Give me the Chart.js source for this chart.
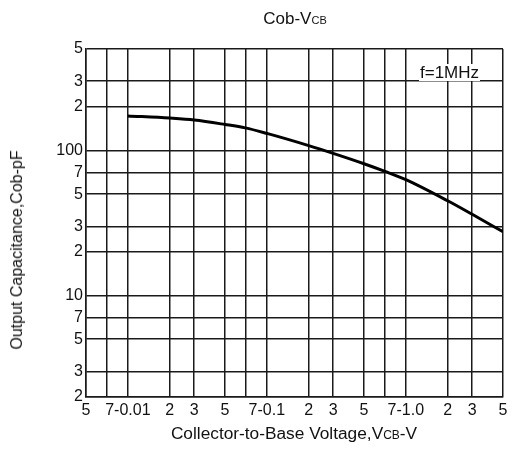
<!DOCTYPE html>
<html>
<head>
<meta charset="utf-8">
<title>Cob-VCB</title>
<script src="https://cdn.jsdelivr.net/npm/chart.js@4/dist/chart.umd.min.js"></script>
<style>
  html, body { margin: 0; padding: 0; background: #fff; }
  #wrap { position: relative; width: 513px; height: 455px; font-family: "Liberation Sans", Arial, sans-serif; color: #111; }
  #chart { position: absolute; left: 0; top: 0; }
  .lbl { position: absolute; white-space: nowrap; line-height: 17px; }
  .sub { font-size: 11px; }
  #title { left: 295px; top: 10px; font-size: 17px; transform: translateX(-50%); }
  #ytitle { left: 17px; top: 250px; font-size: 16px; line-height: 16px; transform: translate(-50%, -50%) rotate(-90deg); }
  #xtitle { left: 294px; top: 425px; font-size: 17.3px; transform: translateX(-50%); }
  #xtitle .sub { font-size: 12px; }
  #freq { left: 419px; top: 64px; font-size: 17px; background: #fff; padding: 0 1px; }
</style>
</head>
<body>
<div id="wrap">
  <canvas id="chart" width="513" height="455"></canvas>
  <div class="lbl" id="title">Cob-V<span class="sub">CB</span></div>
  <div class="lbl" id="ytitle">Output Capacitance,Cob-pF</div>
  <div class="lbl" id="xtitle">Collector-to-Base Voltage,V<span class="sub">CB</span>-V</div>
  <div class="lbl" id="freq">f=1MHz</div>
</div>
<script>
// Cob vs VCB curve
const vcb = [0.01, 0.02, 0.03, 0.05, 0.07, 0.1, 0.2, 0.3, 0.5, 0.7, 1, 2, 3, 5];
const cob = [173, 167, 162, 151, 143, 131, 108, 95.5, 81, 72, 63, 45, 36.3, 27.5];

// grid / tick labels as printed on the sheet
const xTicks = [0.005, 0.007, 0.01, 0.02, 0.03, 0.05, 0.07, 0.1, 0.2, 0.3, 0.5, 0.7, 1, 2, 3, 5];
const xTickLabels = ['5', '', '7-0.01', '2', '3', '5', '', '7-0.1', '2', '3', '5', '', '7-1.0', '2', '3', '5'];
const yTicks = [2, 3, 5, 7, 10, 20, 30, 50, 70, 100, 200, 300, 500];
const yTickLabels = ['2', '3', '5', '7', '10', '2', '3', '5', '7', '100', '2', '3', '5'];

const gridColor = '#1a1a1a';
const tickFont = { family: "'Liberation Sans', Arial, sans-serif", size: 16 };

const ctx = document.getElementById('chart').getContext('2d');
new Chart(ctx, {
  type: 'line',
  data: {
    datasets: [{
      data: vcb.map((v, i) => ({ x: v, y: cob[i] })),
      borderColor: '#000',
      borderWidth: 3,
      pointRadius: 0,
      fill: false,
      cubicInterpolationMode: 'monotone'
    }]
  },
  options: {
    responsive: false,
    devicePixelRatio: 1,
    animation: false,
    layout: { padding: { left: 0, right: 10, top: 49, bottom: 0 } },
    plugins: {
      legend: { display: false },
      tooltip: { enabled: false }
    },
    scales: {
      x: {
        type: 'logarithmic',
        min: 0.005,
        max: 5,
        afterBuildTicks: s => { s.ticks = xTicks.map(v => ({ value: v })); },
        afterFit: s => { s.height = 58; },
        grid: { color: gridColor, lineWidth: 1.5, drawTicks: false },
        border: { color: gridColor, width: 1.5 },
        ticks: {
          autoSkip: false,
          maxRotation: 0,
          padding: 4,
          color: '#111',
          font: tickFont,
          callback: v => xTickLabels[xTicks.indexOf(v)]
        }
      },
      y: {
        type: 'logarithmic',
        min: 2,
        max: 500,
        afterBuildTicks: s => { s.ticks = yTicks.map(v => ({ value: v })); },
        afterFit: s => { s.width = 86; },
        grid: { color: gridColor, lineWidth: 1.5, drawTicks: false },
        border: { color: gridColor, width: 1.5 },
        ticks: {
          autoSkip: false,
          padding: 3,
          color: '#111',
          font: tickFont,
          callback: v => yTickLabels[yTicks.indexOf(v)]
        }
      }
    }
  }
});
</script>
</body>
</html>
